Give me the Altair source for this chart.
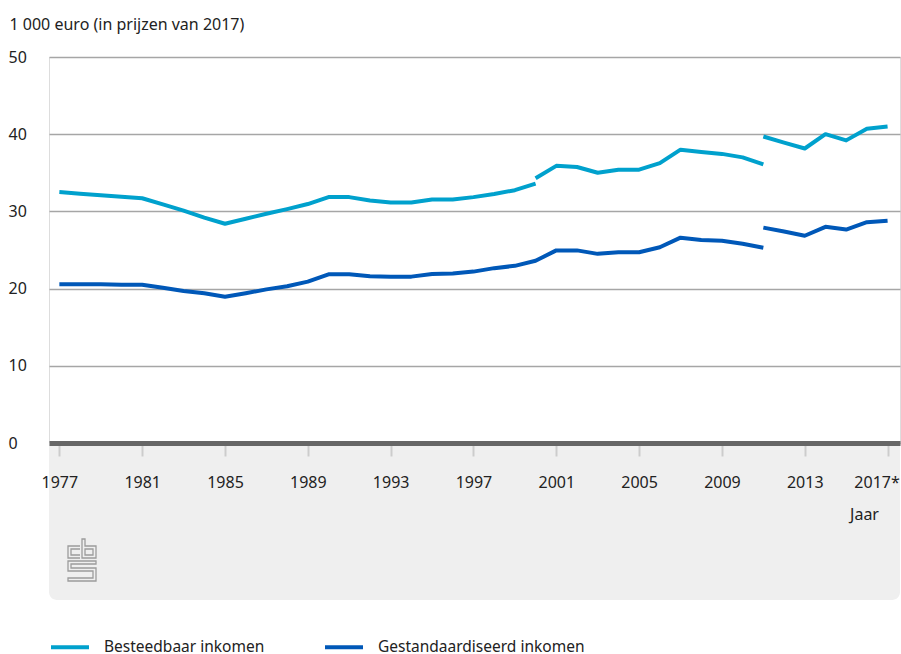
import base64
import altair as alt
import pandas as pd

# ---- data ----
series_names = ["Besteedbaar inkomen", "Gestandaardiseerd inkomen"]
series_colors = ["#00a1cd", "#0058b8"]

# Besteedbaar inkomen, three segments (breaks in 2000 and 2011)
best_years_a = list(range(1977, 2001))
best_vals_a = [32.5, 32.3, 32.1, 31.9, 31.7, 30.9, 30.1, 29.2, 28.4, 29.05, 29.7, 30.3,
               30.95, 31.85, 31.85, 31.4, 31.15, 31.15, 31.55, 31.55, 31.85, 32.25, 32.75, 33.6]
best_years_b = list(range(2000, 2012))
best_vals_b = [34.3, 35.9, 35.75, 35.0, 35.4, 35.4, 36.25, 38.0, 37.7, 37.45, 37.0, 36.1]
best_years_c = list(range(2011, 2018))
best_vals_c = [39.7, 38.9, 38.15, 40.0, 39.2, 40.7, 41.0]

# Gestandaardiseerd inkomen, two segments (break in 2011)
gest_years_a = list(range(1977, 2012))
gest_vals_a = [20.55, 20.55, 20.55, 20.5, 20.5, 20.1, 19.7, 19.4, 18.95, 19.4, 19.9, 20.3,
               20.9, 21.85, 21.85, 21.6, 21.55, 21.55, 21.9, 21.97, 22.2, 22.65, 22.95, 23.6,
               24.95, 24.95, 24.5, 24.7, 24.7, 25.35, 26.6, 26.3, 26.2, 25.8, 25.3]
gest_years_b = list(range(2011, 2018))
gest_vals_b = [27.9, 27.4, 26.85, 28.0, 27.65, 28.6, 28.8]

x_ticks = list(range(1977, 2018, 4))
y_ticks = [0, 10, 20, 30, 40, 50]

# ---- build table ----
rows = []
for name, seg, ys, vs in [
    (series_names[0], "b1", best_years_a, best_vals_a),
    (series_names[0], "b2", best_years_b, best_vals_b),
    (series_names[0], "b3", best_years_c, best_vals_c),
    (series_names[1], "g1", gest_years_a, gest_vals_a),
    (series_names[1], "g2", gest_years_b, gest_vals_b),
]:
    for y, v in zip(ys, vs):
        rows.append({"jaar": y, "waarde": v, "reeks": name, "segment": seg})
df = pd.DataFrame(rows)

FONT = "Noto Sans"
FS = 16
TXT = "#222222"
W, H = 851, 386

lines = alt.Chart(df).mark_line(strokeWidth=4, strokeCap="butt", strokeJoin="round").encode(
    x=alt.X("jaar:Q",
            scale=alt.Scale(domain=[1976.5, 2017.6], nice=False, zero=False),
            axis=alt.Axis(values=x_ticks, format="d",
                          labelExpr="datum.value == 2017 ? '2017*' : datum.label",
                          labelOffset={"condition": {"test": "datum.value == 2017", "value": -11},
                                       "value": 0},
                          labelFlush=False,
                          domainColor="#666666", domainWidth=5,
                          tickColor="#cccccc", tickWidth=2, tickSize=13,
                          labelPadding=26, labelBaseline="middle",
                          labelFontSize=FS, labelColor=TXT, labelFont=FONT,
                          grid=False, title="Jaar", titleFontSize=FS, titleFontWeight="normal",
                          titleColor=TXT, titleFont=FONT,
                          titleX=815, titleY=71, titleAlign="center", titleBaseline="middle",
                          zindex=1)),
    y=alt.Y("waarde:Q",
            scale=alt.Scale(domain=[0, 50], nice=False),
            axis=alt.Axis(values=y_ticks, domain=False, ticks=False,
                          labelAlign="left", labelPadding=41, labelBaseline="middle",
                          labelFontSize=FS, labelColor=TXT, labelFont=FONT,
                          gridColor="#a6a6a6", gridWidth=1.5,
                          title="1 000 euro (in prijzen van 2017)", titleAngle=0,
                          titleAlign="left", titleBaseline="middle", titleX=-40, titleY=-33,
                          titleFontSize=FS, titleFontWeight="normal", titleColor=TXT,
                          titleFont=FONT)),
    color=alt.Color("reeks:N",
                    scale=alt.Scale(domain=series_names, range=series_colors),
                    legend=alt.Legend(orient="none", legendX=0, legendY=569,
                                      direction="horizontal", title=None,
                                      symbolType="stroke", symbolStrokeWidth=4, symbolSize=1444,
                                      labelFontSize=15.5, labelFont=FONT, labelColor=TXT,
                                      labelLimit=400,
                                      labelOffset=13, columnPadding=52)),
    detail="segment:N",
)

panel = alt.Chart(pd.DataFrame({"a": [0]})).mark_rect(
    color="#efefef", cornerRadiusBottomLeft=8, cornerRadiusBottomRight=8
).encode(x=alt.value(0), x2=alt.value(W), y=alt.value(H), y2=alt.value(543))

logo_svg = (
    '<svg xmlns="http://www.w3.org/2000/svg" width="30" height="44" viewBox="0 0 30 44">'
    '<g fill="none" stroke="#9c9c9c" stroke-width="1.3">'
    '<path d="M13 8 H1 V20 H13 M13 11 H4 V17 H13"/>'
    '<path d="M15 1 H18 V8 H29 V20 H15 Z"/>'
    '<path d="M18 11 H26 V17 H18 Z"/>'
    '<path d="M29 23 H1 V33 H26 V40 H1 V43 H29 V30 H4 V26 H29 Z"/>'
    '</g></svg>'
)
logo_uri = "data:image/svg+xml;base64," + base64.b64encode(logo_svg.encode()).decode()

logo = alt.Chart(pd.DataFrame({"a": [0]})).mark_image(width=30, height=44).encode(
    x=alt.value(33), y=alt.value(503), url=alt.value(logo_uri)
)

chart = alt.layer(panel, logo, lines).properties(
    width=W, height=H,
    padding={"left": 49, "top": 57, "right": 1, "bottom": 211},
    autosize=alt.AutoSizeParams(type="none"),
).configure_view(stroke=None).configure(font=FONT)

chart.save("out.html", embed_options={"renderer": "svg", "actions": False})
